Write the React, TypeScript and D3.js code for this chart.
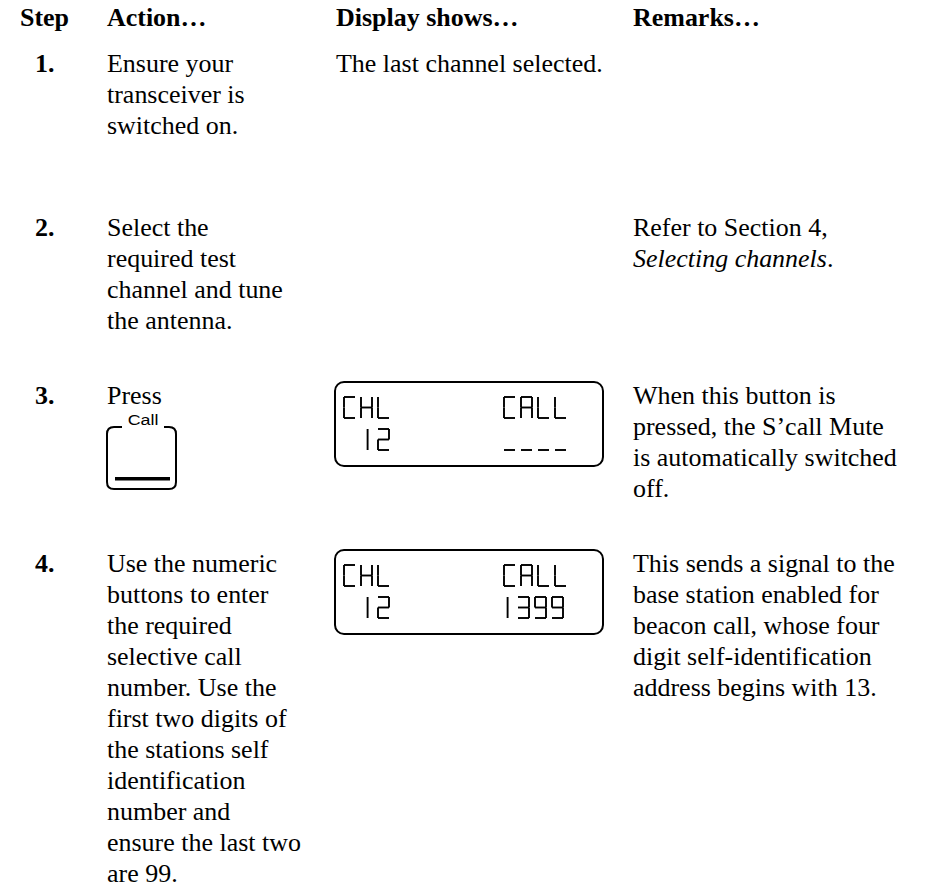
import React from 'react';
import * as d3 from 'd3';

const headers = ['Step', 'Action…', 'Display shows…', 'Remarks…'];
const stepLabels = ['1.', '2.', '3.', '4.'];
const actionLines = [
  ['Ensure your', 'transceiver is', 'switched on.'],
  ['Select the', 'required test', 'channel and tune', 'the antenna.'],
  ['Press'],
  ['Use the numeric', 'buttons to enter', 'the required', 'selective call', 'number. Use the',
    'first two digits of', 'the stations self', 'identification', 'number and',
    'ensure the last two', 'are 99.'],
];
const displayLines = [['The last channel selected.'], [], [], []];
// *...* marks an italic run
const remarkLines = [
  [],
  ['Refer to Section 4,', '*Selecting channels*.'],
  ['When this button is', 'pressed, the S’call Mute', 'is automatically switched', 'off.'],
  ['This sends a signal to the', 'base station enabled for', 'beacon call, whose four',
    'digit self-identification', 'address begins with 13.'],
];
const stepBaselines = [72, 236, 404, 572];
const buttonSteps = [false, false, true, false];
const buttonLabel = 'Call';
const lcdScreens = [
  null,
  null,
  { top: ['CHL', 'CALL'], bottom: [' 12', '----'] },
  { top: ['CHL', 'CALL'], bottom: [' 12', '1399'] },
];

const SERIF = '"Liberation Serif", "Times New Roman", serif';
const SANS = '"Liberation Sans", Arial, sans-serif';
const FONT = 24.5;
const SX = 1.06; // the scan is a little wider than tall
const LINE = 31;

const colX = d3.scaleOrdinal<string, number>()
  .domain(['step', 'action', 'display', 'remarks'])
  .range([20, 107, 336, 633]);
const stepX = 35;
const lineY = d3.scaleLinear().domain([0, 1]).range([0, LINE]);

// seven segment glyphs
const segs: Record<string, string[]> = {
  C: ['a', 'd', 'e', 'f'],
  H: ['b', 'c', 'e', 'f', 'g'],
  L: ['d', 'e', 'f'],
  A: ['a', 'b', 'c', 'e', 'f', 'g'],
  '1': ['i'],
  '2': ['a', 'b', 'g', 'e', 'd'],
  '3': ['a', 'b', 'g', 'c', 'd'],
  '9': ['a', 'b', 'c', 'd', 'f', 'g'],
  '-': ['d'],
  ' ': [],
};
const CW = 11;
const CH = 21;
const PITCH = 17;
const segPts: Record<string, [number, number][]> = {
  a: [[0, 0], [CW, 0]],
  b: [[CW, 0], [CW, CH / 2]],
  c: [[CW, CH / 2], [CW, CH]],
  d: [[0, CH], [CW, CH]],
  e: [[0, CH / 2], [0, CH]],
  f: [[0, 0], [0, CH / 2]],
  g: [[0, CH / 2], [CW, CH / 2]],
  i: [[CW * 0.6, 0], [CW * 0.6, CH]],
};
const segLine = d3.line();

function Rich({ s }: { s: string }) {
  const parts = s.split('*');
  return (
    <>
      {parts.map((p, i) => (
        <tspan key={i} fontStyle={i % 2 ? 'italic' : 'normal'}>{p}</tspan>
      ))}
    </>
  );
}

function Txt({ x, y, children }: { x: number; y: number; children: React.ReactNode }) {
  return <text transform={`translate(${x},${y}) scale(${SX},1)`}>{children}</text>;
}

function Lines({ x, y, lines }: { x: number; y: number; lines: string[] }) {
  return (
    <g>
      {lines.map((l, i) => (
        <Txt key={i} x={x} y={y + lineY(i)}><Rich s={l} /></Txt>
      ))}
    </g>
  );
}

function LcdText({ x, y, str, dx = 0 }: { x: number; y: number; str: string; dx?: number }) {
  const cx = d3.scaleLinear().domain([0, 1]).range([x + dx, x + dx + PITCH]);
  return (
    <g>
      {str.split('').map((ch, i) => (
        <g key={i} transform={`translate(${cx(i)},${y})`}>
          {(segs[ch] || []).map(k => (
            <path key={k} d={segLine(segPts[k]) || ''} />
          ))}
        </g>
      ))}
    </g>
  );
}

function Lcd({ y, screen }: { y: number; screen: { top: string[]; bottom: string[] } }) {
  const x = 335;
  const w = 268;
  const h = 84;
  const fieldX = [x + 9, x + 169];
  return (
    <g>
      <rect x={x} y={y} width={w} height={h} rx={9} fill="none" stroke="#000" strokeWidth={2} />
      <g fill="none" stroke="#000" strokeWidth={1.9}>
        {screen.top.map((s, i) => <LcdText key={'t' + i} x={fieldX[i]} y={y + 15} str={s} />)}
        {screen.bottom.map((s, i) => (
          <LcdText key={'b' + i} x={fieldX[i]} y={y + 47} str={s} dx={i === 1 && s !== '----' ? -3 : 0} />
        ))}
      </g>
    </g>
  );
}

function CallButton({ y }: { y: number }) {
  const x0 = 107;
  const x1 = 176;
  const top = y + 23;
  const bot = y + 85;
  const r = 7;
  const p = d3.path();
  p.moveTo(122, top);
  p.lineTo(x0 + r, top);
  p.quadraticCurveTo(x0, top, x0, top + r);
  p.lineTo(x0, bot - r);
  p.quadraticCurveTo(x0, bot, x0 + r, bot);
  p.lineTo(x1 - r, bot);
  p.quadraticCurveTo(x1, bot, x1, bot - r);
  p.lineTo(x1, top + r);
  p.quadraticCurveTo(x1, top, x1 - r, top);
  p.lineTo(164, top);
  return (
    <g>
      <path d={p.toString()} fill="none" stroke="#000" strokeWidth={2} />
      <text transform={`translate(143,${y + 21}) scale(1.15,1)`} fontFamily={SANS} fontSize={15.5}
        textAnchor="middle">{buttonLabel}</text>
      <rect x={115} y={y + 73} width={55} height={3.5} fill="#000" />
    </g>
  );
}

export default function App() {
  const cols = ['step', 'action', 'display', 'remarks'];
  return (
    <svg width={930} height={893} viewBox="0 0 930 893"
      style={{ position: 'absolute', left: 0, top: 0, background: '#fff' }}
      fontFamily={SERIF} fontSize={FONT} fill="#000">
      <rect width={930} height={893} fill="#fff" />
      <g fontWeight="bold">
        {headers.map((h, i) => (
          <Txt key={h} x={colX(cols[i])} y={26}>{h}</Txt>
        ))}
        {stepLabels.map((s, i) => (
          <Txt key={s} x={stepX} y={stepBaselines[i]}>{s}</Txt>
        ))}
      </g>
      {stepBaselines.map((y, i) => (
        <g key={i}>
          <Lines x={colX('action')} y={y} lines={actionLines[i]} />
          <Lines x={colX('display')} y={y} lines={displayLines[i]} />
          <Lines x={colX('remarks')} y={y} lines={remarkLines[i]} />
          {buttonSteps[i] && <CallButton y={y} />}
          {lcdScreens[i] && <Lcd y={y - 22} screen={lcdScreens[i]!} />}
        </g>
      ))}
    </svg>
  );
}
